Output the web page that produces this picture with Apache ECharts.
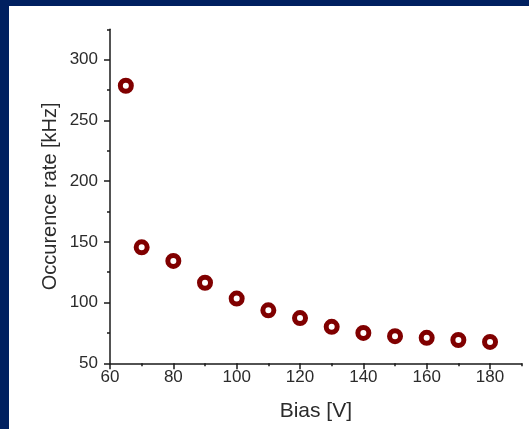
<!DOCTYPE html>
<html>
<head>
<meta charset="utf-8">
<script src="https://cdn.jsdelivr.net/npm/echarts@6/dist/echarts.min.js"></script>
<style>
  html, body { margin: 0; padding: 0; width: 529px; height: 429px; background: #002060; overflow: hidden; }
  #chart { position: absolute; left: 9px; top: 6px; width: 520px; height: 423px; background: #ffffff; }
</style>
</head>
<body>
<div id="chart"></div>
<script>
// Data
const biasValues = [65, 70, 80, 90, 100, 110, 120, 130, 140, 150, 160, 170, 180];
const rateValues = [278.5, 145.5, 134.3, 116.3, 103.3, 93.6, 87.2, 80.0, 75.0, 72.3, 71.0, 69.2, 67.6];
const xTickLabels = [60, 80, 100, 120, 140, 160, 180];
const yTickLabels = [50, 100, 150, 200, 250, 300];
const xName = 'Bias [V]';
const yName = 'Occurence rate [kHz]';

const axisColor = '#1a1a1a';
const textColor = '#2b2b2b';
const font = 'Liberation Sans';

const chart = echarts.init(document.getElementById('chart'), null, { renderer: 'canvas' });
chart.setOption({
  animation: false,
  backgroundColor: '#ffffff',
  grid: { left: 101, top: 23.3, right: 7.3, bottom: 65.7, containLabel: false },
  xAxis: [
    {
      type: 'value', min: 60, max: 190, interval: 10,
      name: xName, nameLocation: 'middle', nameGap: 37,
      nameTextStyle: { fontFamily: font, fontSize: 21, color: textColor },
      axisLine: { show: true, lineStyle: { color: axisColor, width: 1.5 } },
      axisTick: { show: true, length: 3, lineStyle: { color: axisColor, width: 1.5 } },
      axisLabel: { show: false },
      splitLine: { show: false }
    },
    {
      type: 'value', min: 60, max: 190, position: 'bottom',
      axisLine: { show: false },
      axisTick: { show: true, length: 6, customValues: xTickLabels, lineStyle: { color: axisColor, width: 1.5 } },
      axisLabel: { show: true, customValues: xTickLabels, margin: 6, fontFamily: font, fontSize: 17, color: textColor },
      splitLine: { show: false }
    }
  ],
  yAxis: [
    {
      type: 'value', min: 50, max: 325, interval: 25,
      name: yName, nameLocation: 'middle', nameGap: 50, nameRotate: 90,
      nameTextStyle: { fontFamily: font, fontSize: 20, color: textColor },
      axisLine: { show: true, lineStyle: { color: axisColor, width: 1.5 } },
      axisTick: { show: true, length: 3, lineStyle: { color: axisColor, width: 1.5 } },
      axisLabel: { show: false },
      splitLine: { show: false }
    },
    {
      type: 'value', min: 50, max: 325, position: 'left',
      axisLine: { show: false },
      axisTick: { show: true, length: 6, customValues: yTickLabels, lineStyle: { color: axisColor, width: 1.5 } },
      axisLabel: { show: true, customValues: yTickLabels, margin: 12, fontFamily: font, fontSize: 17, color: textColor },
      splitLine: { show: false }
    }
  ],
  series: [
    {
      type: 'scatter',
      xAxisIndex: 0, yAxisIndex: 0,
      data: biasValues.map((b, i) => [b, rateValues[i]]),
      symbol: 'circle',
      symbolSize: 11,
      itemStyle: { color: '#ffffff', borderColor: '#800000', borderWidth: 5, opacity: 1 }
    }
  ]
});
</script>
</body>
</html>
